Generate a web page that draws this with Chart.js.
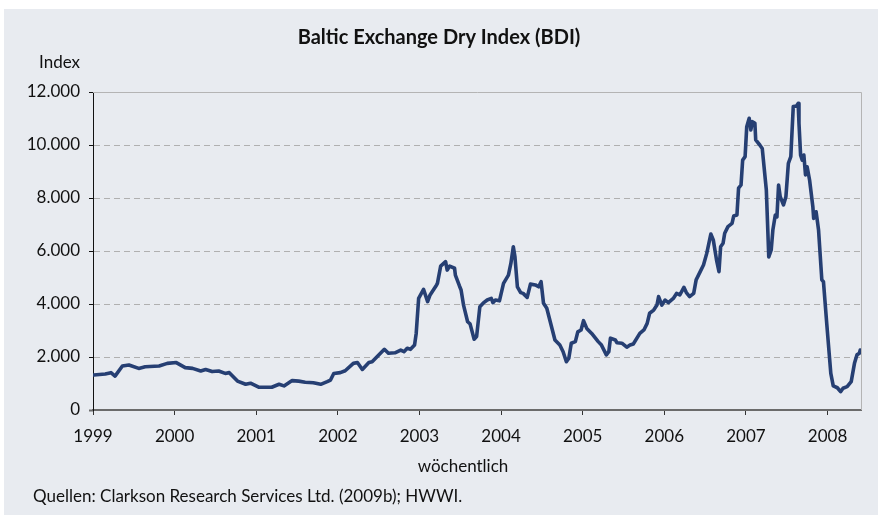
<!DOCTYPE html>
<html>
<head>
<meta charset="utf-8">
<script src="https://cdn.jsdelivr.net/npm/chart.js@4.4.1/dist/chart.umd.min.js"></script>
<style>
  html, body { margin: 0; padding: 0; background: #ffffff; }
  #wrap { position: relative; width: 878px; height: 515px; }
</style>
</head>
<body>
<div id="wrap"><canvas id="c" width="878" height="515"></canvas></div>
<script>
// ---- data (decimal year, index value) ----
const weekDates = [
  1999.01,1999.15,1999.22,1999.27,1999.36,1999.44,1999.56,1999.64,1999.81,1999.91,
  2000.02,2000.13,2000.22,2000.32,2000.38,2000.46,2000.54,2000.62,2000.67,2000.77,2000.87,2000.93,
  2001.03,2001.19,2001.28,2001.34,2001.44,2001.52,2001.60,2001.70,2001.79,2001.87,2001.91,2001.95,
  2002.03,2002.09,2002.19,2002.24,2002.30,2002.38,2002.42,2002.48,2002.57,2002.62,2002.70,2002.77,2002.81,2002.85,2002.89,2002.94,2002.96,2002.99,
  2003.05,2003.10,2003.13,2003.21,2003.22,2003.26,2003.32,2003.34,2003.37,2003.43,2003.44,2003.49,2003.51,2003.54,2003.59,2003.62,2003.67,2003.70,2003.74,2003.78,2003.83,2003.88,2003.90,2003.93,2003.98,
  2004.03,2004.09,2004.12,2004.15,2004.17,2004.20,2004.24,2004.27,2004.32,2004.36,2004.42,2004.46,2004.49,2004.52,2004.56,2004.66,2004.72,2004.76,2004.80,2004.83,2004.86,2004.91,2004.94,2004.98,
  2005.01,2005.05,2005.11,2005.19,2005.23,2005.29,2005.32,2005.34,2005.40,2005.42,2005.48,2005.54,2005.58,2005.62,2005.70,2005.75,2005.79,2005.82,2005.87,2005.91,2005.93,2005.97,
  2006.01,2006.05,2006.11,2006.15,2006.19,2006.24,2006.27,2006.31,2006.36,2006.39,2006.44,2006.48,2006.52,2006.57,2006.60,2006.64,2006.67,2006.69,2006.72,2006.74,2006.78,2006.83,2006.85,2006.89,2006.91,2006.94,2006.96,2006.99,
  2007.01,2007.04,2007.06,2007.08,2007.11,2007.12,2007.17,2007.20,2007.25,2007.28,2007.31,2007.33,2007.36,2007.38,2007.40,2007.42,2007.46,2007.49,2007.52,2007.55,2007.58,2007.62,2007.64,2007.65,2007.67,2007.69,2007.71,2007.73,2007.75,2007.78,2007.82,2007.83,2007.86,2007.89,2007.93,2007.95,2007.99,
  2008.04,2008.07,2008.12,2008.16,2008.19,2008.24,2008.29,2008.33,2008.36,2008.39,2008.40
];
const bdiValues = [
  1320,1360,1410,1280,1660,1700,1570,1630,1660,1760,
  1790,1600,1570,1470,1530,1450,1470,1380,1410,1090,970,1010,
  860,860,970,910,1110,1090,1050,1030,970,1070,1130,1380,
  1410,1480,1760,1790,1530,1790,1820,2010,2290,2140,2160,2260,2200,2330,2290,2450,2890,4210,
  4550,4090,4340,4720,4780,5430,5600,5280,5430,5350,5090,4680,4530,3960,3330,3250,2670,2770,3900,4030,4150,4210,4050,4150,4120,
  4780,5090,5530,6160,5780,4650,4430,4400,4250,4750,4720,4650,4840,4030,3840,2640,2450,2200,1820,1950,2520,2580,2950,3020,
  3370,3080,2890,2580,2450,2080,2200,2710,2640,2540,2520,2370,2450,2490,2890,3020,3270,3650,3770,3960,4280,3960,
  4150,4050,4210,4400,4340,4630,4430,4280,4400,4910,5220,5470,5910,6640,6420,5660,5220,6160,6290,6670,6920,7040,7320,7360,8370,8490,9430,9560,
  10690,11010,10570,10880,10820,10190,10000,9870,8300,5780,6040,6790,7360,7290,8490,8050,7740,8050,9310,9560,11450,11470,11570,10820,9620,9430,9620,8870,9180,8680,7670,7230,7480,6790,4910,4840,3270,
  1380,910,840,690,820,880,1070,1760,2080,2140,2260
];
const yearTicks = [1999,2000,2001,2002,2003,2004,2005,2006,2007,2008];
const yTicks = [0,2000,4000,6000,8000,10000,12000];

const titleText = 'Baltic Exchange Dry Index (BDI)';
const yAxisLabel = 'Index';
const xAxisLabel = 'wöchentlich';
const sourceText = 'Quellen: Clarkson Research Services Ltd. (2009b); HWWI.';

const FONT = 'Lato, "Noto Sans", sans-serif';
const PANEL = '#e8ebf0';

function fmtDE(v) {
  return String(v).replace(/\B(?=(\d{3})+(?!\d))/g, '.');
}

const decorPlugin = {
  id: 'decor',
  beforeDraw(chart) {
    const ctx = chart.ctx;
    ctx.save();
    ctx.fillStyle = '#ffffff';
    ctx.fillRect(0, 0, chart.width, chart.height);
    ctx.fillStyle = PANEL;
    ctx.fillRect(4, 9, chart.width - 4, chart.height - 9);
    ctx.restore();
  },
  beforeDatasetsDraw(chart) {
    const ctx = chart.ctx;
    const a = chart.chartArea;
    const yTop = chart.scales.y.getPixelForValue(12000);
    ctx.save();
    ctx.strokeStyle = '#b4b4b4';
    ctx.lineWidth = 1;
    ctx.beginPath();
    ctx.moveTo(a.left, Math.round(yTop) + 0.5);
    ctx.lineTo(Math.round(a.right) + 0.5, Math.round(yTop) + 0.5);
    ctx.lineTo(Math.round(a.right) + 0.5, a.bottom);
    ctx.stroke();
    ctx.restore();
  },
  afterDraw(chart) {
    const ctx = chart.ctx;
    const a = chart.chartArea;
    ctx.save();
    ctx.fillStyle = '#111';
    ctx.textBaseline = 'middle';
    ctx.textAlign = 'center';
    ctx.font = 'bold 20px ' + FONT;
    ctx.fillText(titleText, chart.width / 2, 38);
    ctx.font = '17px ' + FONT;
    ctx.textAlign = 'right';
    ctx.fillText(yAxisLabel, a.left - 13, 63);
    ctx.textAlign = 'center';
    ctx.fillText(xAxisLabel, 463, 467);
    ctx.textAlign = 'left';
    ctx.fillText(sourceText, 33, 497);
    ctx.restore();
  }
};

new Chart(document.getElementById('c'), {
  type: 'line',
  data: {
    datasets: [{
      label: 'BDI',
      data: weekDates.map((d, i) => ({ x: d, y: bdiValues[i] })),
      borderColor: '#263f73',
      borderWidth: 3.6,
      pointRadius: 0,
      tension: 0,
      fill: false,
      borderJoinStyle: 'round',
      borderCapStyle: 'round'
    }]
  },
  options: {
    responsive: false,
    animation: false,
    devicePixelRatio: 1,
    layout: { padding: { left: 0, top: 92, right: 17, bottom: 65 } },
    plugins: {
      legend: { display: false },
      title: { display: false },
      tooltip: { enabled: false }
    },
    scales: {
      x: {
        type: 'linear',
        min: 1999,
        max: 2008.41,
        afterBuildTicks: s => { s.ticks = yearTicks.map(v => ({ value: v })); },
        afterFit: s => { s.height = 40; },
        ticks: {
          color: '#111',
          font: { family: FONT, size: 17 },
          padding: 11,
          maxRotation: 0,
          autoSkip: false,
          callback: v => String(v)
        },
        grid: {
          drawOnChartArea: false,
          drawTicks: true,
          tickLength: 5,
          tickColor: '#333',
          tickWidth: 1
        },
        border: { display: true, color: '#6b6b6b', width: 2 }
      },
      y: {
        min: 0,
        max: 12000,
        afterBuildTicks: s => { s.ticks = yTicks.map(v => ({ value: v })); },
        afterFit: s => { s.width = 93; },
        ticks: {
          color: '#111',
          font: { family: FONT, size: 17 },
          padding: 9,
          callback: v => fmtDE(v)
        },
        grid: {
          color: c => (c.tick && (c.tick.value === 0 || c.tick.value === 12000)) ? 'rgba(0,0,0,0)' : '#b0b0b0',
          lineWidth: 1,
          drawTicks: true,
          tickLength: 4,
          tickColor: c => (c.tick && c.tick.value === 0) ? '#6b6b6b' : '#111',
          tickWidth: c => (c.tick && c.tick.value === 0) ? 2 : 1,
          tickBorderDash: []
        },
        border: { display: true, color: '#111', width: 1, dash: [6, 4] }
      }
    }
  },
  plugins: [decorPlugin]
});
</script>
</body>
</html>
